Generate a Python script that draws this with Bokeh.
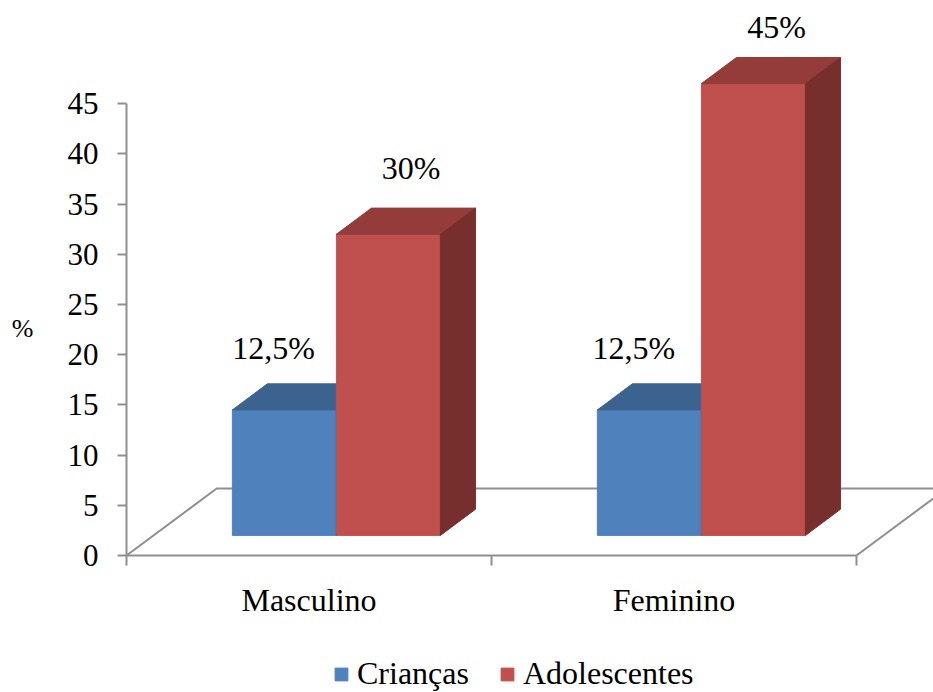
from bokeh.plotting import figure
from bokeh.models import LinearAxis, FixedTicker, Legend, LegendItem, Range1d
from bokeh.core.properties import value
from bokeh.embed import file_html
from bokeh.resources import INLINE

categories = ["Masculino", "Feminino"]
series_names = ["Crianças", "Adolescentes"]
criancas = [12.5, 12.5]
adolescentes = [30, 45]
label_criancas = ["12,5%", "12,5%"]
label_adolescentes = ["30%", "45%"]
y_ticks = list(range(0, 50, 5))

SERIF = "Liberation Serif"
FS = "32px"
GREY = "#8f8f8f"
BLUE, BLUE_TOP, BLUE_SIDE = "#4f81bd", "#3c6390", "#2f4e72"
RED, RED_TOP, RED_SIDE = "#c0504d", "#943c3a", "#772f2d"

# 3-D look of the chart: lift above the floor front edge and oblique depth
LIFT = 2.0
DX, DY = 0.096, 2.6
BAR_W = 0.285
OFFSET = 0.075
FLOOR_DX, FLOOR_DY = 0.247, 6.67
XS, YS = 365, 10.04   # pixels per data unit

p = figure(width=933, height=692, output_backend="svg", toolbar_location=None,
           x_range=Range1d(-126 / XS, 807 / XS), y_range=Range1d(-137 / YS, 555 / YS),
           x_axis_type=None, y_axis_type=None,
           min_border_left=0, min_border_right=0, min_border_top=0, min_border_bottom=0,
           outline_line_color=None, background_fill_color="white", border_fill_color="white")
p.grid.visible = False

# floor
n = len(categories)
p.line([0, FLOOR_DX, n + FLOOR_DX, n], [0, FLOOR_DY, FLOOR_DY, 0], line_color=GREY, line_width=2)

centers = [i + 0.5 for i in range(n)]

def bars(lefts, vals, front, top, side):
    rights = [l + BAR_W for l in lefts]
    tops = [v + LIFT for v in vals]
    r = p.quad(left=lefts, right=rights, bottom=[LIFT] * n, top=tops, fill_color=front, line_color=front)
    p.patches([[l, l + DX, x + DX, x] for l, x in zip(lefts, rights)],
              [[t, t + DY, t + DY, t] for t in tops], fill_color=top, line_color=top)
    p.patches([[x, x + DX, x + DX, x] for x in rights],
              [[LIFT, LIFT + DY, t + DY, t] for t in tops], fill_color=side, line_color=side)
    return r

r_blue = bars([c + OFFSET - BAR_W for c in centers], criancas, BLUE, BLUE_TOP, BLUE_SIDE)
r_red = bars([c + OFFSET for c in centers], adolescentes, RED, RED_TOP, RED_SIDE)

# value labels
p.text(x=[c - 0.097 + dx for c, dx in zip(centers, [0, -0.013])],
       y=[v + 6.2 + LIFT for v in criancas], text=label_criancas,
       text_font=value(SERIF), text_font_size=FS, text_color="black",
       text_align="center", text_baseline="middle")
p.text(x=[c + 0.28 + dx for c, dx in zip(centers, [0, 0.001])],
       y=[v + LIFT + dy for v, dy in zip(adolescentes, [6.6, 5.6])], text=label_adolescentes,
       text_font=value(SERIF), text_font_size=FS, text_color="black",
       text_align="center", text_baseline="middle")

# "%" axis title
p.text(x=[-104 / XS], y=[22.6], text=["%"], text_font=value(SERIF), text_font_size="26px",
       text_color="black", text_align="center", text_baseline="middle")

# axes
yaxis = LinearAxis(ticker=FixedTicker(ticks=y_ticks), bounds=(0, 45), fixed_location=0,
                   major_label_text_font=SERIF, major_label_text_font_size="31px",
                   major_label_text_color="black", major_label_standoff=19,
                   axis_line_color=GREY, axis_line_width=2,
                   major_tick_line_color=GREY, major_tick_line_width=2,
                   major_tick_out=9, major_tick_in=0, minor_tick_out=0, minor_tick_in=0)
p.add_layout(yaxis, "left")

xaxis = LinearAxis(ticker=FixedTicker(ticks=centers, minor_ticks=list(range(n + 1))), bounds=(0, n),
                   fixed_location=0,
                   major_label_overrides={c: t for c, t in zip(centers, categories)},
                   major_label_text_font=SERIF, major_label_text_font_size=FS,
                   major_label_text_color="black", major_label_standoff=16,
                   axis_line_color=GREY, axis_line_width=2,
                   major_tick_out=0, major_tick_in=0,
                   minor_tick_line_color=GREY, minor_tick_line_width=2,
                   minor_tick_out=10, minor_tick_in=0)
p.add_layout(xaxis, "below")

legend = Legend(items=[LegendItem(label=series_names[0], renderers=[r_blue]),
                       LegendItem(label=series_names[1], renderers=[r_red])],
                orientation="horizontal", location=(333, 0),
                label_text_font=SERIF, label_text_font_size=FS, label_text_color="black",
                glyph_width=16, glyph_height=16, spacing=30, padding=0, margin=0,
                label_standoff=8, border_line_color=None, background_fill_alpha=0)
p.add_layout(legend)

open("out.html", "w").write(file_html(p, INLINE))
